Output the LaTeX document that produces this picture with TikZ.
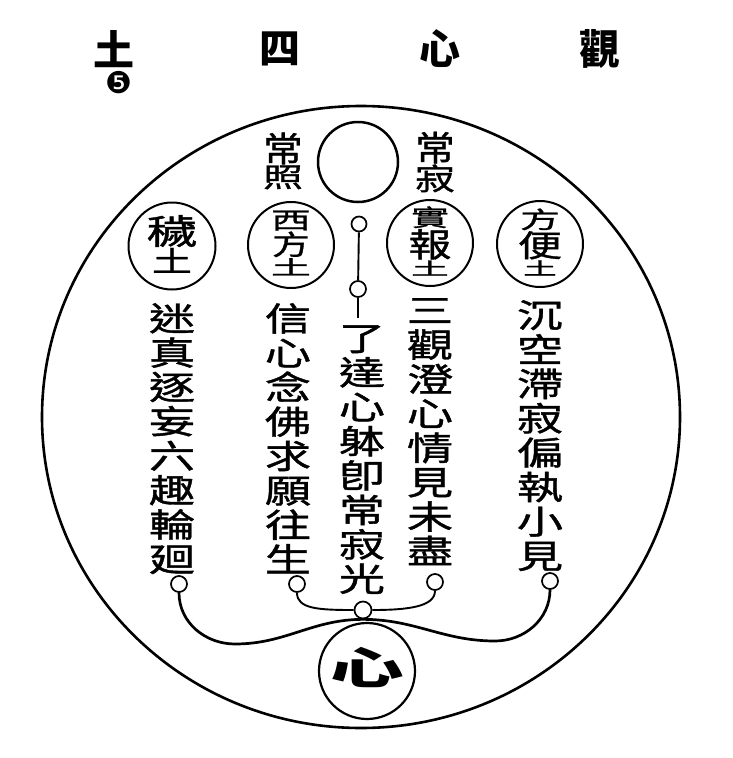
\documentclass[tikz,border=0pt]{standalone}
\usepackage{fontspec}
\usepackage{graphicx}
\newfontfamily\cjk{Noto Sans CJK TC}
\newfontfamily\cjkw[FakeStretch=1.4,FakeBold=1.2]{Noto Sans CJK TC}
\newfontfamily\djv{DejaVu Sans}
\usetikzlibrary{shapes.geometric}
\newcommand\sx[3]{\scalebox{#1}[#2]{#3}}
\newcommand\vstack[2]{\vbox{\baselineskip=#1\lineskiplimit=-100pt\halign{\hfil##\hfil\cr#2\crcr}}}
\newcommand\tstack[1]{\vbox{\offinterlineskip\halign{\hfil##\hfil\cr#1\crcr}}}
\newcommand\gp{\noalign{\kern1pt}}
\begin{document}
\begin{tikzpicture}[x=1pt,y=-1pt,
  ring/.style={draw, circle, line width=2pt, inner sep=0pt},
  dot/.style={draw, circle, line width=1.7pt, inner sep=0pt, fill=white},
  col/.style={inner sep=0pt, anchor=north, font=\cjkw\fontsize{33}{34}\selectfont},
  lbl/.style={inner sep=0pt, font=\cjkw\fontsize{30}{32}\selectfont},
  head/.style={inner sep=0pt, font=\cjk\bfseries\fontsize{41}{41}\selectfont},
  wire/.style={line width=1.9pt},
  bigwire/.style={line width=2.7pt, line cap=round},
]
\useasboundingbox (0,0) rectangle (733,758);
% title
\node[head] (h1) at (114,49) {土};
\node[inner sep=0pt, font=\djv\fontsize{30}{30}\selectfont] (h5) at (119,83) {❺};
\node[head] (h2) at (280,49) {四};
\node[head] (h3) at (440,49) {心};
\node[head] (h4) at (600,49) {觀};
% outer ring
\node[draw, ellipse, line width=2.6pt, inner sep=0pt, minimum width=638pt, minimum height=622pt] (outer) at (361,417) {};
% top moon circle
\node[ring, line width=2.5pt, minimum size=80pt] (sun) at (358,162) {};
% upper labels
\node[lbl] (lz) at (283,161) {\tstack{\sx{0.95}{1.15}{常}\cr\gp\sx{0.95}{0.9}{照}}};
\node[lbl] (lj) at (435,162) {\tstack{\sx{0.95}{1.15}{常}\cr\gp\sx{0.95}{1.0}{寂}}};
% lands
\node[ring, minimum size=87pt] (W) at (172,246) {};
\node[lbl] (Wt) at (172,244) {\tstack{\sx{1.2}{1.15}{穢}\cr\gp\sx{0.95}{0.95}{土}}};
\node[ring, minimum size=86pt] (X) at (291,245) {};
\node[lbl] (Xt) at (291,243) {\tstack{\sx{0.95}{0.78}{西}\cr\gp\sx{0.9}{0.92}{方}\cr\gp\sx{0.95}{0.66}{土}}};
\node[ring, minimum size=86pt] (R) at (430,243) {};
\node[lbl] (Rt) at (430,241) {\tstack{\sx{0.9}{0.78}{實}\cr\gp\sx{1.02}{1.1}{報}\cr\gp\sx{0.9}{0.58}{土}}};
\node[ring, minimum size=86pt] (F) at (540,244) {};
\node[lbl] (Ft) at (540,242) {\tstack{\sx{0.95}{0.78}{方}\cr\gp\sx{1.05}{1.02}{便}\cr\gp\sx{0.8}{0.58}{土}}};
% central column dots
\node[dot, minimum size=15pt] (t1) at (359,224) {};
\node[dot, minimum size=16pt] (t2) at (358,289) {};
\coordinate (ct) at (358,318);
\draw[wire] (t1) -- (t2);
\draw[wire] (t2) -- (ct);
% columns
\node[col] (c1) at (172,303) {\vstack{34.4pt}{迷\cr 真\cr 逐\cr 妄\cr 六\cr 趣\cr 輪\cr 廻}};
\node[col] (c2) at (288,303) {\vstack{34.4pt}{信\cr 心\cr 念\cr 佛\cr 求\cr 願\cr 往\cr 生}};
\node[col] (c3) at (362,325) {\vstack{34.4pt}{了\cr 達\cr 心\cr 躰\cr 卽\cr 常\cr 寂\cr 光}};
\node[col] (c4) at (430,298) {\vstack{34.4pt}{三\cr 觀\cr 澄\cr 心\cr 情\cr 見\cr 未\cr 盡}};
\node[col] (c5) at (540,300) {\vstack{34.4pt}{沉\cr 空\cr 滯\cr 寂\cr 偏\cr 執\cr 小\cr 見}};
% bottom dots
\node[dot, minimum size=16pt] (d1) at (179,584) {};
\node[dot, minimum size=16pt] (d2) at (297,584) {};
\node[dot, minimum size=16pt] (d3) at (435,582) {};
\node[dot, minimum size=16pt] (d4) at (550,581) {};
\node[dot, minimum size=17pt] (hub) at (363,610) {};
\coordinate (lowL) at (235,644);
\coordinate (lowR) at (495,641);
% connectors
\draw[bigwire] (d1.south) to[out=-90,in=180] (lowL) to[out=0,in=180] (hub.south) to[out=0,in=180] (lowR) to[out=0,in=-90] (d4.south);
\draw[wire] (d2.south) .. controls ([yshift=-16pt]d2.south) and ([xshift=-35pt]hub.west) .. (hub.west);
\draw[wire] (hub.east) .. controls ([xshift=35pt]hub.east) and ([yshift=-16pt]d3.south) .. (d3.south);
% heart circle
\node[ring, line width=2.2pt, minimum size=96pt] (M) at (367,671) {};
\node[inner sep=0pt, font=\cjk\bfseries\fontsize{46}{46}\selectfont] (Mt) at (367,668) {\sx{1.6}{0.95}{心}};
\end{tikzpicture}
\end{document}
